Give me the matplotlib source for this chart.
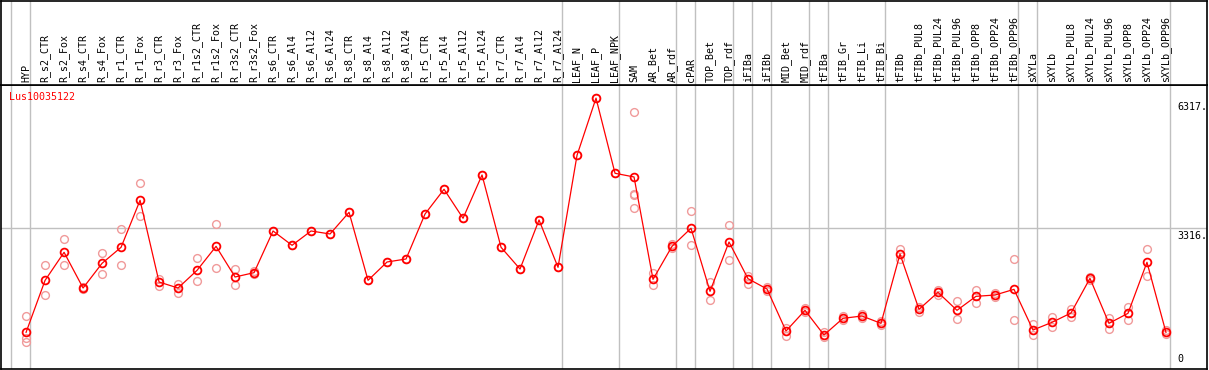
import numpy as np
import matplotlib
matplotlib.use("Agg")
import matplotlib.pyplot as plt

# samples, in plotting order
samples = ["HYP", "R_s2_CTR", "R_s2_Fox", "R_s4_CTR", "R_s4_Fox", "R_r1_CTR", "R_r1_Fox",
           "R_r3_CTR", "R_r3_Fox", "R_r1s2_CTR", "R_r1s2_Fox", "R_r3s2_CTR", "R_r3s2_Fox",
           "R_s6_CTR", "R_s6_Al4", "R_s6_Al12", "R_s6_Al24", "R_s8_CTR", "R_s8_Al4",
           "R_s8_Al12", "R_s8_Al24", "R_r5_CTR", "R_r5_Al4", "R_r5_Al12", "R_r5_Al24",
           "R_r7_CTR", "R_r7_Al4", "R_r7_Al12", "R_r7_Al24", "LEAF_N", "LEAF_P", "LEAF_NPK",
           "SAM", "AR_Bet", "AR_rdf", "cPAR", "TOP_Bet", "TOP_rdf", "iFIBa", "iFIBb",
           "MID_Bet", "MID_rdf", "tFIBa", "tFIB_Gr", "tFIB_Li", "tFIB_Bi", "tFIBb",
           "tFIBb_PUL8", "tFIBb_PUL24", "tFIBb_PUL96", "tFIBb_OPP8", "tFIBb_OPP24",
           "tFIBb_OPP96", "sXYLa", "sXYLb", "sXYLb_PUL8", "sXYLb_PUL24", "sXYLb_PUL96",
           "sXYLb_OPP8", "sXYLb_OPP24", "sXYLb_OPP96"]

# how many samples in each block (separator line after each block)
group_sizes = [1, 28, 3, 3, 1, 2, 1, 1, 2, 1, 3, 7, 1, 7]

# mean expression
means = [916, 2115, 2761, 1938, 2508, 2877, 3961, 2076, 1938, 2346, 2899, 2192, 2292,
         3253, 2923, 3253, 3184, 3684, 2115, 2538, 2607, 3645, 4215, 3546, 4545,
         2877, 2376, 3507, 2415, 4999, 6317, 4584, 4499, 2138, 2899, 3316, 1861, 2999,
         2153, 1915, 946, 1423, 854, 1239, 1292, 1123, 2722, 1446, 1838, 1423, 1746,
         1776, 1907, 969, 1146, 1361, 2161, 1123, 1354, 2531, 916]

# replicate values
reps = [[1292, 791, 685], [2461, 1769], [3061, 2461], [1960, 1916], [2738, 2254],
        [3292, 2461], [4353, 3599], [2153, 1991], [2038, 1823], [2630, 2092],
        [3407, 2407], [2376, 2000], [2330, 2260], [3253], [2923], [3253], [3184],
        [3684], [2115], [2538], [2607], [3645], [4215], [3546], [4545], [2877],
        [2376], [3507], [2415], [4999], [6317], [4584], [5991, 4106, 4076, 3776],
        [2277, 2000], [2953, 2853], [3714, 2923], [2084, 1653], [3384, 2577],
        [2222, 2038], [1960, 1880], [1022, 838], [1470, 1380], [930, 800],
        [1290, 1190], [1340, 1250], [1170, 1080], [2845, 2607], [1500, 1390],
        [1900, 1780], [1638, 1215], [1899, 1599], [1830, 1720], [2600, 1200],
        [1100, 854], [1276, 1031], [1461, 1276], [2200, 2120], [1253, 999],
        [1500, 1200], [2830, 2207], [960, 870]]

gene = "Lus10035122"
ytick_vals = [0, 3316, 6317]

W, H = 1209, 370
fig = plt.figure(figsize=(W / 100, H / 100), dpi=100)
ax = fig.add_axes([1 / W, 1 / H, 1206 / W, 284 / H])
hd = fig.add_axes([1 / W, 285 / H, 1206 / W, 84 / H])

x = np.arange(len(samples))
xlim = (-1.32, 62.16)
grey = "#c0c0c0"

# block separators
ends = np.cumsum(group_sizes) - 1
seps = np.concatenate([[-1], ends]) + 0.21
for a in (ax, hd):
    for s in seps:
        a.axvline(s, color=grey, lw=1.0, zorder=0)
    a.set_xlim(*xlim)
    a.set_xticks([])
    a.set_yticks([])
    for sp in a.spines.values():
        sp.set_color("black")
        sp.set_linewidth(1.2)

ax.set_ylim(70, 6620)
ax.axhline(ytick_vals[1], color=grey, lw=1.0, zorder=0)

# replicates
for i, r in enumerate(reps):
    ax.plot([x[i]] * len(r), r, "o", ms=5.6, mfc="none", mec="#f09a9a", mew=1.0, zorder=2)

ax.plot(x, means, "-", color="red", lw=0.9, zorder=3)
ax.plot(x, means, "o", ms=5.6, mfc="none", mec="red", mew=1.3, zorder=4)

ax.text(0.007, 0.975, gene, transform=ax.transAxes, color="red", fontsize=7.2,
        family="DejaVu Sans Mono", va="top", ha="left")

# value labels on the right
lx = 60.62
ax.text(lx, ytick_vals[2] - 100, "6317.", fontsize=7.2, family="DejaVu Sans Mono", va="top", ha="left")
ax.text(lx, ytick_vals[1] - 60, "3316.", fontsize=7.2, family="DejaVu Sans Mono", va="top", ha="left")
ax.text(lx, 180, "0", fontsize=7.2, family="DejaVu Sans Mono", va="bottom", ha="left")

# header with sample names
hd.set_ylim(0, 1)
for i, name in enumerate(samples):
    hd.text(x[i], 0.03, name, rotation=90, fontsize=7.2, family="DejaVu Sans Mono",
            ha="center", va="bottom")

fig.savefig("out.png", dpi=100)
